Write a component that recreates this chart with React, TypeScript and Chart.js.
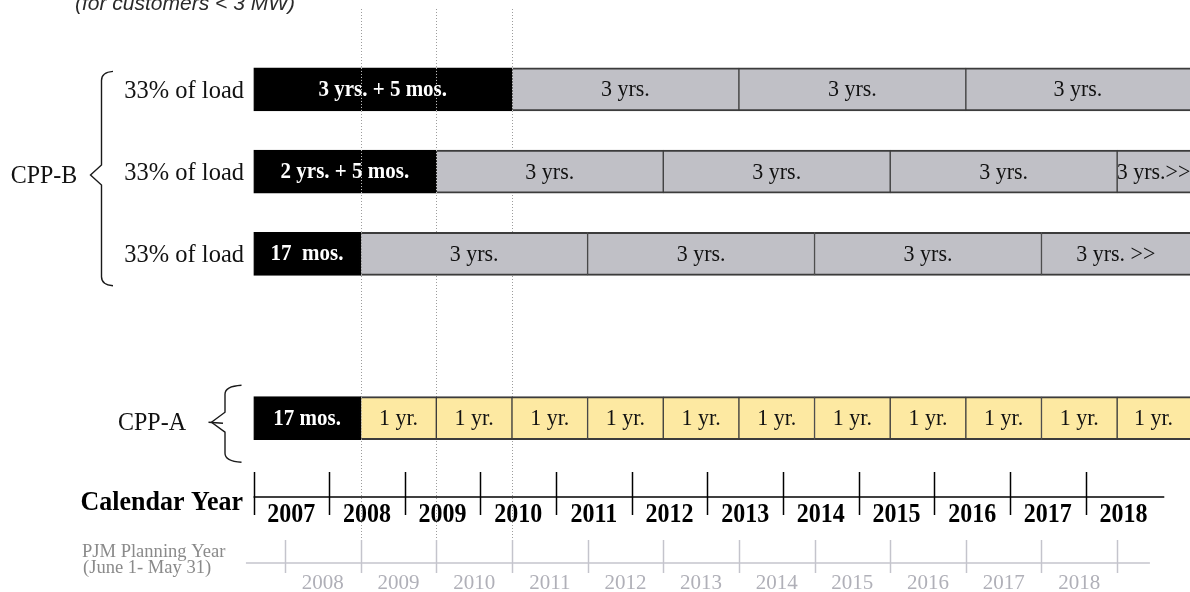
import React, { useEffect, useRef } from "react";
import { Chart, registerables } from "chart.js";

Chart.register(...registerables);

// ---------------- DATA ----------------
const categories = ["CPP-B tranche 1", "CPP-B tranche 2", "CPP-B tranche 3", "", "CPP-A"];
const trancheLabels = ["33% of load", "33% of load", "33% of load"];
const termStartYear = 2007; // all terms begin Jan 1, 2007

// term lengths in months, in order
const cppB1Months = [41, 36, 36, 36];
const cppB1Text = ["3 yrs. + 5 mos.", "3 yrs.", "3 yrs.", "3 yrs."];
const cppB2Months = [29, 36, 36, 36, 36];
const cppB2Text = ["2 yrs. + 5 mos.", "3 yrs.", "3 yrs.", "3 yrs.", "3 yrs.>>"];
const cppB3Months = [17, 36, 36, 36, 36];
const cppB3Text = ["17  mos.", "3 yrs.", "3 yrs.", "3 yrs.", "3 yrs. >>"];
const cppAMonths = [17, 12, 12, 12, 12, 12, 12, 12, 12, 12, 12, 12];
const cppAText = ["17 mos.", "1 yr.", "1 yr.", "1 yr.", "1 yr.", "1 yr.", "1 yr.", "1 yr.", "1 yr.", "1 yr.", "1 yr.", "1 yr."];

const calendarYears = [2007, 2008, 2009, 2010, 2011, 2012, 2013, 2014, 2015, 2016, 2017, 2018];
const planningYears = [2008, 2009, 2010, 2011, 2012, 2013, 2014, 2015, 2016, 2017, 2018];
const planningYearStartMonth = 5; // June 1 (months after Jan 1)

// ---------------- STYLE ----------------
const SERIF = "'Liberation Serif', 'Times New Roman', serif";
const BLACK = "#000000";
const GRAY = "#c0c0c6";
const YELLOW = "#fde9a2";
const EDGE = "#3c3c3c";

const rows = [
  { cat: 0, months: cppB1Months, text: cppB1Text, fill: GRAY },
  { cat: 1, months: cppB2Months, text: cppB2Text, fill: GRAY },
  { cat: 2, months: cppB3Months, text: cppB3Text, fill: GRAY },
  { cat: 4, months: cppAMonths, text: cppAText, fill: YELLOW },
];

function segments(months: number[]) {
  const out: [number, number][] = [];
  let acc = 0;
  months.forEach((m) => {
    const s = termStartYear + acc / 12;
    acc += m;
    out.push([s, termStartYear + acc / 12]);
  });
  return out;
}

const rowSegs = rows.map((r) => segments(r.months));
const transitionEnds = [cppB3Months[0], cppB2Months[0], cppB1Months[0]].map((m) => termStartYear + m / 12);

function buildDatasets() {
  const maxSeg = Math.max(...rows.map((r) => r.months.length));
  const ds: any[] = [];
  for (let k = 0; k < maxSeg; k++) {
    const data: any[] = categories.map(() => null);
    const bg: string[] = categories.map(() => "rgba(0,0,0,0)");
    const bc: string[] = categories.map(() => "rgba(0,0,0,0)");
    rows.forEach((r, ri) => {
      if (k < r.months.length) {
        data[r.cat] = rowSegs[ri][k];
        bg[r.cat] = k === 0 ? BLACK : r.fill;
        bc[r.cat] = k === 0 ? BLACK : EDGE;
      }
    });
    ds.push({
      data,
      backgroundColor: bg,
      borderColor: bc,
      borderWidth: { top: 2, bottom: 2, left: 1, right: 1 },
      borderSkipped: false,
      grouped: false,
      barThickness: 43,
    });
  }
  return ds;
}

function text(ctx: CanvasRenderingContext2D, s: string, x: number, y: number, font: string, color: string, align: CanvasTextAlign = "center", sx = 1, sy = 1) {
  ctx.save();
  ctx.font = font;
  ctx.fillStyle = color;
  ctx.textAlign = align;
  ctx.textBaseline = "middle";
  ctx.translate(x, y);
  ctx.scale(sx, sy);
  ctx.fillText(s, 0, 0);
  ctx.restore();
}

function line(ctx: CanvasRenderingContext2D, pts: number[][], color: string, w: number) {
  ctx.save();
  ctx.strokeStyle = color;
  ctx.lineWidth = w;
  ctx.beginPath();
  pts.forEach((p, i) => (i === 0 ? ctx.moveTo(p[0], p[1]) : ctx.lineTo(p[0], p[1])));
  ctx.stroke();
  ctx.restore();
}

function brace(ctx: CanvasRenderingContext2D, xTip: number, xv: number, xHook: number, top: number, mid: number, bottom: number, tail: boolean) {
  ctx.save();
  ctx.strokeStyle = "#1a1a1a";
  ctx.lineWidth = 1.4;
  ctx.beginPath();
  ctx.moveTo(xHook, top);
  ctx.quadraticCurveTo(xv, top + 1, xv, top + 9);
  ctx.lineTo(xv, mid - 10);
  ctx.lineTo(xTip, mid);
  ctx.lineTo(xv, mid + 10);
  ctx.lineTo(xv, bottom - 9);
  ctx.quadraticCurveTo(xv, bottom - 1, xHook, bottom);
  ctx.stroke();
  if (tail) {
    ctx.beginPath();
    ctx.moveTo(xTip - 3, mid);
    ctx.lineTo(xv - 2, mid + 1);
    ctx.stroke();
  }
  ctx.restore();
}

const timelinePlugin = {
  id: "timeline",
  beforeDatasetsDraw(chart: any) {
    const { ctx } = chart;
    const x = chart.scales.x;
    ctx.save();
    ctx.strokeStyle = "#9c9c9c";
    ctx.lineWidth = 1;
    ctx.setLineDash([1, 2]);
    transitionEnds.forEach((v) => {
      const px = Math.round(x.getPixelForValue(v)) + 0.5;
      ctx.beginPath();
      ctx.moveTo(px, 9);
      ctx.lineTo(px, 540);
      ctx.stroke();
    });
    ctx.restore();
  },
  afterDatasetsDraw(chart: any) {
    const { ctx, chartArea } = chart;
    const x = chart.scales.x;
    rows.forEach((r) => {
      r.text.forEach((t, k) => {
        const el = chart.getDatasetMeta(k).data[r.cat];
        if (!el) return;
        const p = el.getProps(["x", "y", "base", "height"], true);
        const left = Math.min(p.x, p.base);
        const right = Math.min(Math.max(p.x, p.base), chartArea.right);
        const black = k === 0;
        ctx.save();
        ctx.beginPath();
        ctx.rect(left + 1, p.y - p.height / 2, right - left - 1, p.height);
        ctx.clip();
        const font = black ? `bold 21px ${SERIF}` : `22px ${SERIF}`;
        text(ctx, t, (left + right) / 2, p.y + 1, font, black ? "#ffffff" : "#111111", "center", 1, 1.05);
        ctx.restore();
        if (black) {
          ctx.save();
          ctx.strokeStyle = "#d8d8d8";
          ctx.lineWidth = 1;
          ctx.setLineDash([1, 2]);
          transitionEnds.forEach((v) => {
            const px = Math.round(x.getPixelForValue(v)) + 0.5;
            if (px > left + 2 && px <= right + 1) {
              ctx.beginPath();
              ctx.moveTo(px, p.y - p.height / 2);
              ctx.lineTo(px, p.y + p.height / 2);
              ctx.stroke();
            }
          });
          ctx.restore();
        }
      });
    });
  },
  afterDraw(chart: any) {
    const { ctx } = chart;
    const x = chart.scales.x;
    const y = chart.scales.y;

    // subtitle (cut at top)
    text(ctx, "(for customers < 3 MW)", 75, 4, `italic 21px 'Liberation Sans', Arial, sans-serif`, "#2a2a2a", "left");

    // tranche labels
    trancheLabels.forEach((l, i) => {
      text(ctx, l, 244, y.getPixelForValue(i) + 2, `24px ${SERIF}`, "#111", "right", 1.02, 1.05);
    });

    // CPP-B brace and label
    const b1 = y.getPixelForValue(0);
    const b3 = y.getPixelForValue(2);
    brace(ctx, 90.5, 101.5, 113, b1 - 18, 175, b3 + 32, false);
    text(ctx, "CPP-B", 44, 176, `24px ${SERIF}`, "#111", "center", 1, 1.05);

    // CPP-A brace and label
    const ya = y.getPixelForValue(4);
    brace(ctx, 211.5, 225, 241.5, ya - 33, ya + 4, ya + 44, true);
    text(ctx, "CPP-A", 152, ya + 5, `24px ${SERIF}`, "#111", "center", 1, 1.05);

    // Calendar year axis
    const axY = 497;
    line(ctx, [[x.getPixelForValue(2007), axY], [x.getPixelForValue(2019.04), axY]], "#000", 1.5);
    calendarYears.forEach((yr) => {
      const px = Math.round(x.getPixelForValue(yr)) + 0.5;
      line(ctx, [[px, 472], [px, 515]], "#000", 1.5);
      text(ctx, String(yr), x.getPixelForValue(yr + 0.5), 515, `bold 24px ${SERIF}`, "#000", "center", 1, 1.1);
    });
    text(ctx, "Calendar Year", 243, 503, `bold 26px ${SERIF}`, "#000", "right", 1, 1.05);

    // PJM planning year axis
    const pjY = 563;
    line(ctx, [[x.getPixelForValue(2006.9), pjY], [x.getPixelForValue(2018.85), pjY]], "#c4c4cc", 1.5);
    for (let yr = planningYears[0] - 1; yr <= planningYears[planningYears.length - 1]; yr++) {
      const px = Math.round(x.getPixelForValue(yr + planningYearStartMonth / 12)) + 0.5;
      line(ctx, [[px, 540], [px, 573]], "#c4c4cc", 1.5);
    }
    planningYears.forEach((lab) => {
      const c = lab - 1 + planningYearStartMonth / 12 + 0.5;
      text(ctx, String(lab), x.getPixelForValue(c), 583, `21px ${SERIF}`, "#b0b0b8", "center");
    });
    text(ctx, "PJM Planning Year", 82, 552, `18px ${SERIF}`, "#8a8a8a", "left", 1.03, 1);
    text(ctx, "(June 1- May 31)", 83, 568, `18px ${SERIF}`, "#8a8a8a", "left", 1.03, 1);
  },
};

export default function App() {
  const ref = useRef<HTMLCanvasElement>(null);
  useEffect(() => {
    if (!ref.current) return;
    const chart = new Chart(ref.current, {
      type: "bar",
      data: { labels: categories, datasets: buildDatasets() },
      options: {
        indexAxis: "y",
        responsive: false,
        animation: false,
        events: [],
        layout: { padding: { left: 253.5, right: 0, top: 48.3, bottom: 132.7 } },
        scales: {
          x: { type: "linear", min: 2007, max: 2019.38, display: false },
          y: { type: "category", display: false, offset: true },
        },
        plugins: { legend: { display: false }, tooltip: { enabled: false } },
      },
      plugins: [timelinePlugin],
    } as any);
    return () => chart.destroy();
  }, []);
  return (
    <div style={{ position: "absolute", left: 0, top: 0, width: 1190, height: 592, background: "#fff" }}>
      <canvas ref={ref} width={1190} height={592} style={{ display: "block" }} />
    </div>
  );
}
